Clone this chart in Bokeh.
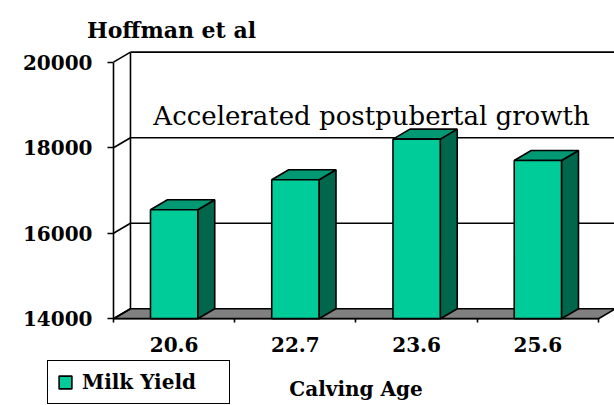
from bokeh.plotting import figure
from bokeh.models import Range1d, FixedTicker, Label, Legend, LegendItem
from bokeh.embed import file_html
from bokeh.resources import INLINE

# ---- data ----
categories = ["20.6", "22.7", "23.6", "25.6"]
milk_yield = [16550, 17250, 18200, 17700]
y_ticks = [14000, 16000, 18000, 20000]
series_name = "Milk Yield"
x_title = "Calving Age"
chart_title = "Hoffman et al"
note = "Accelerated postpubertal growth"

# ---- styling constants (3D projection) ----
DX = 0.14      # depth offset in category units
DY = 234       # depth offset in value units
BAR_W = 0.39
FRONT = "#00CC99"
TOP = "#009973"
SIDE = "#00664C"
FLOOR = "#808080"
LW = 1.6
SERIF = "DejaVu Serif"

n = len(categories)
base = y_ticks[0]
top_v = y_ticks[-1]

p = figure(width=614, height=405, x_range=Range1d(-0.932, 4.132), y_range=Range1d(11973, 21442),
           output_backend="svg", toolbar_location=None,
           min_border_left=0, min_border_right=0, min_border_top=0, min_border_bottom=0)
p.grid.visible = False
p.outline_line_color = None
p.background_fill_color = "white"

# floor
p.patch(x=[0, n, n + DX, DX], y=[base, base, base + DY, base + DY],
        fill_color=FLOOR, line_color="black", line_width=LW)

# back wall gridlines and left wall edges
for t in y_ticks[1:]:
    p.segment(x0=[DX], y0=[t + DY], x1=[n + 1], y1=[t + DY], line_color="black", line_width=LW)
p.segment(x0=[DX], y0=[base + DY], x1=[DX], y1=[top_v + DY], line_color="black", line_width=LW)
p.segment(x0=[0] * len(y_ticks), y0=y_ticks, x1=[DX] * len(y_ticks),
          y1=[t + DY for t in y_ticks], line_color="black", line_width=LW)

# bars
centers = [i + 0.5 for i in range(n)]
lefts = [c - BAR_W / 2 for c in centers]
rights = [c + BAR_W / 2 for c in centers]

side_xs = [[r, r + DX, r + DX, r] for r in rights]
side_ys = [[base, base + DY, v + DY, v] for v in milk_yield]
p.patches(xs=side_xs, ys=side_ys, fill_color=SIDE, line_color="black", line_width=LW)

top_xs = [[l, l + DX, r + DX, r] for l, r in zip(lefts, rights)]
top_ys = [[v, v + DY, v + DY, v] for v in milk_yield]
p.patches(xs=top_xs, ys=top_ys, fill_color=TOP, line_color="black", line_width=LW)

front = p.quad(left=lefts, right=rights, bottom=[base] * n, top=milk_yield,
               fill_color=FRONT, line_color="black", line_width=LW)

# axes (fixed at the front corner of the 3D box)
ya = p.yaxis[0]
ya.fixed_location = 0
ya.ticker = FixedTicker(ticks=y_ticks, minor_ticks=[])
ya.bounds = (y_ticks[0], y_ticks[-1])
ya.axis_line_color = "black"
ya.axis_line_width = LW
ya.major_tick_out = 6
ya.major_tick_in = 0
ya.major_tick_line_width = LW
ya.minor_tick_out = 0
ya.minor_tick_in = 0
ya.major_label_standoff = 15
ya.major_label_text_font = SERIF
ya.major_label_text_font_style = "bold"
ya.major_label_text_font_size = "20px"
ya.major_label_text_color = "black"

xa = p.xaxis[0]
xa.fixed_location = base
xa.ticker = FixedTicker(ticks=centers, minor_ticks=list(range(n + 1)))
xa.bounds = (0, n)
xa.major_label_overrides = {c: lab for c, lab in zip(centers, categories)}
xa.axis_line_color = "black"
xa.axis_line_width = LW
xa.major_tick_out = 0
xa.major_tick_in = 0
xa.minor_tick_out = 4
xa.minor_tick_in = 0
xa.minor_tick_line_color = "black"
xa.minor_tick_line_width = LW
xa.major_label_standoff = 14
xa.major_label_text_font = SERIF
xa.major_label_text_font_style = "bold"
xa.major_label_text_font_size = "20px"
xa.major_label_text_color = "black"
xa.axis_label = x_title
xa.axis_label_standoff = 22
xa.axis_label_text_font = SERIF
xa.axis_label_text_font_style = "bold"
xa.axis_label_text_font_size = "20px"
xa.axis_label_text_color = "black"

# title and note
p.add_layout(Label(x=0.478, y=20741, text=chart_title, text_align="center",
                   text_baseline="alphabetic", text_font=SERIF,
                   text_font_style="bold", text_font_size="22px", text_color="black"))
p.add_layout(Label(x=2.128, y=18730, text=note, text_align="center",
                   text_baseline="alphabetic", text_font=SERIF,
                   text_font_size="26px", text_color="black"))

# legend
legend = Legend(items=[LegendItem(label=series_name, renderers=[front])],
                location=(47, 1), orientation="horizontal",
                border_line_color="black", border_line_width=LW, border_line_alpha=1,
                background_fill_color="white", background_fill_alpha=1,
                padding=9, margin=0, glyph_width=16, glyph_height=16,
                label_standoff=9, label_text_font=SERIF, label_text_color="black",
                label_text_font_style="bold", label_text_font_size="20px",
                label_height=20, label_width=138)
p.add_layout(legend, "center")

open("out.html", "w").write(file_html(p, INLINE))
